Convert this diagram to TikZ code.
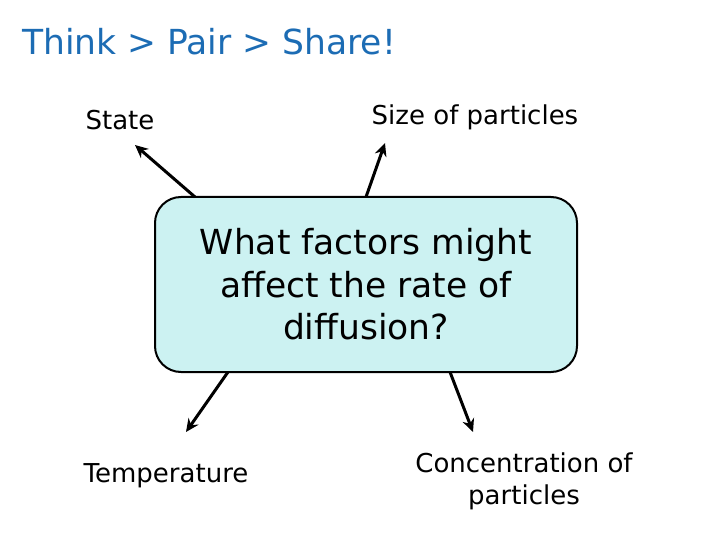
\documentclass[tikz,border=0pt]{standalone}
\usepackage{fontspec}
\setmainfont{DejaVu Sans}
\usetikzlibrary{arrows.meta}
\definecolor{titleblue}{RGB}{28,108,180}
\definecolor{boxfill}{RGB}{204,242,242}
\tikzset{
  lbl/.style={font=\fontsize{26}{32}\selectfont, align=center, inner sep=0pt},
  arr/.style={line width=3pt, -{Stealth[length=13pt,width=12pt]}},
}
\begin{document}
\begin{tikzpicture}[x=1pt,y=-1pt]
\useasboundingbox (0,0) rectangle (720,540);
\node[anchor=west, text=titleblue, font=\fontsize{34.5}{40}\selectfont, inner sep=0pt] (title) at (22,42) {Think > Pair > Share!};
\node[draw=black, line width=2pt, fill=boxfill, rounded corners=26pt,
      minimum width=422pt, minimum height=175pt, inner sep=0pt,
      align=center, font=\fontsize{34.5}{42.5}\selectfont] (box) at (366,284.5)
      {What factors might\\affect the rate of\\diffusion?};
\node[lbl] (state) at (120,120) {State};
\node[lbl] (size) at (475,117) {Size of particles};
\node[lbl] (temp) at (166,476) {Temperature};
\node[lbl] (conc) at (524,481) {Concentration of\\particles};
\coordinate (s1) at (195,197);
\coordinate (t1) at (135,145);
\coordinate (s2) at (366,197);
\coordinate (t2) at (385,143);
\coordinate (s3) at (228,372);
\coordinate (t3) at (186,432);
\coordinate (s4) at (450,372);
\coordinate (t4) at (473,432);
\draw[arr] (s1) -- (t1);
\draw[arr] (s2) -- (t2);
\draw[arr] (s3) -- (t3);
\draw[arr] (s4) -- (t4);
\end{tikzpicture}
\end{document}
